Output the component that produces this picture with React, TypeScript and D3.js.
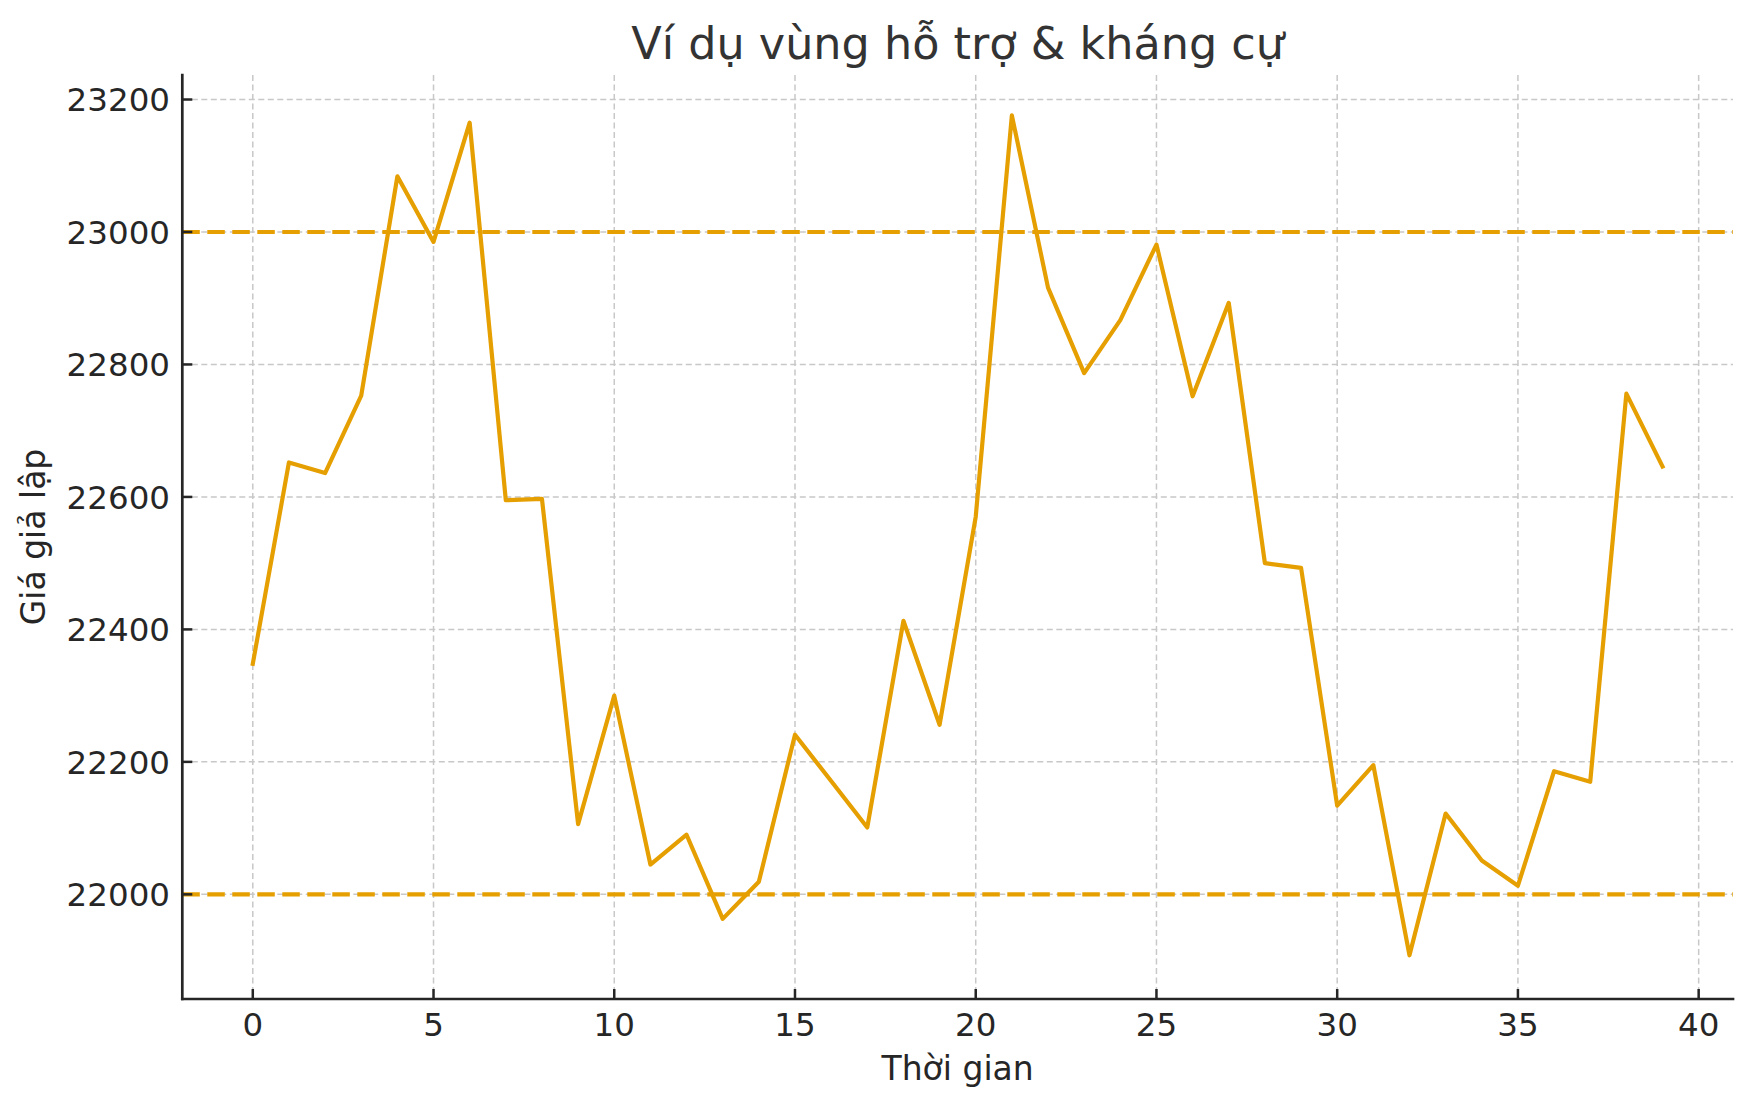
import React from "react";
import * as d3 from "d3";

const prices: number[] = [
  22348, 22652, 22636, 22753, 23084, 22985, 23165, 22595, 22597, 22106,
  22300, 22045, 22090, 21963, 22019, 22241, 22171, 22101, 22413, 22256,
  22570, 23176, 22916, 22787, 22867, 22981, 22752, 22893, 22500, 22493,
  22134, 22195, 21908, 22122, 22051, 22013, 22186, 22170, 22756, 22646,
];
const levels: number[] = [23000, 22000];
const xTicks: number[] = [0, 5, 10, 15, 20, 25, 30, 35, 40];
const yTicks: number[] = [22000, 22200, 22400, 22600, 22800, 23000, 23200];
const title = "Ví dụ vùng hỗ trợ & kháng cự";
const xLabel = "Thời gian";
const yLabel = "Giá giả lập";

const W = 1752;
const H = 1107;
const left = 182.3;
const right = 1733;
const top = 75;
const bottom = 999;
const FONT = "'DejaVu Sans', sans-serif";
const ORANGE = "#E69F00";
const INK = "#262626";

export default function App() {
  const x = d3.scaleLinear().domain([-1.95, 40.95]).range([left, right]);
  const y = d3.scaleLinear().domain([21842, 23237]).range([bottom, top]);
  const line = d3
    .line<number>()
    .x((_, i) => x(i))
    .y((d) => y(d));

  return (
    <svg
      width={W}
      height={H}
      viewBox={`0 0 ${W} ${H}`}
      style={{ position: "absolute", left: 0, top: 0, background: "#fff" }}
      fontFamily={FONT}
    >
      <rect x={0} y={0} width={W} height={H} fill="#fff" />
      {/* grid */}
      <g stroke="#c8c8c8" strokeWidth={1.5} strokeDasharray="6,3.5">
        {xTicks.map((t) => (
          <line key={"gx" + t} x1={x(t)} x2={x(t)} y1={top} y2={bottom} />
        ))}
        {yTicks.map((t) => (
          <line key={"gy" + t} x1={left} x2={right} y1={y(t)} y2={y(t)} />
        ))}
      </g>
      {/* support / resistance */}
      <g stroke={ORANGE} strokeWidth={4.2} strokeDasharray="17.5,7.5">
        {levels.map((l) => (
          <line key={"l" + l} x1={left} x2={right} y1={y(l)} y2={y(l)} />
        ))}
      </g>
      {/* price line */}
      <path
        d={line(prices) || ""}
        fill="none"
        stroke={ORANGE}
        strokeWidth={4.2}
        strokeLinejoin="round"
        strokeLinecap="square"
      />
      {/* spines */}
      <g stroke={INK} strokeWidth={2.7} strokeLinecap="square">
        <line x1={left} x2={left} y1={top} y2={bottom} />
        <line x1={left} x2={right} y1={bottom} y2={bottom} />
      </g>
      {/* ticks */}
      <g stroke={INK} strokeWidth={2.5}>
        {xTicks.map((t) => (
          <line key={"tx" + t} x1={x(t)} x2={x(t)} y1={bottom} y2={bottom - 10} />
        ))}
        {yTicks.map((t) => (
          <line key={"ty" + t} x1={left} x2={left + 10} y1={y(t)} y2={y(t)} />
        ))}
      </g>
      <g fill={INK} fontSize={32.5}>
        {xTicks.map((t) => (
          <text key={"lx" + t} x={x(t)} y={1035.5} textAnchor="middle">
            {t}
          </text>
        ))}
        {yTicks.map((t) => (
          <text key={"ly" + t} x={170} y={y(t) + 11.8} textAnchor="end">
            {t}
          </text>
        ))}
      </g>
      <text x={(left + right) / 2} y={1080} textAnchor="middle" fontSize={33} fill={INK}>
        {xLabel}
      </text>
      <text
        transform={`translate(45, ${(top + bottom) / 2}) rotate(-90)`}
        textAnchor="middle"
        fontSize={33}
        fill={INK}
      >
        {yLabel}
      </text>
      <text x={(left + right) / 2} y={59} textAnchor="middle" fontSize={44.5} fill="#333333">
        {title}
      </text>
    </svg>
  );
}
